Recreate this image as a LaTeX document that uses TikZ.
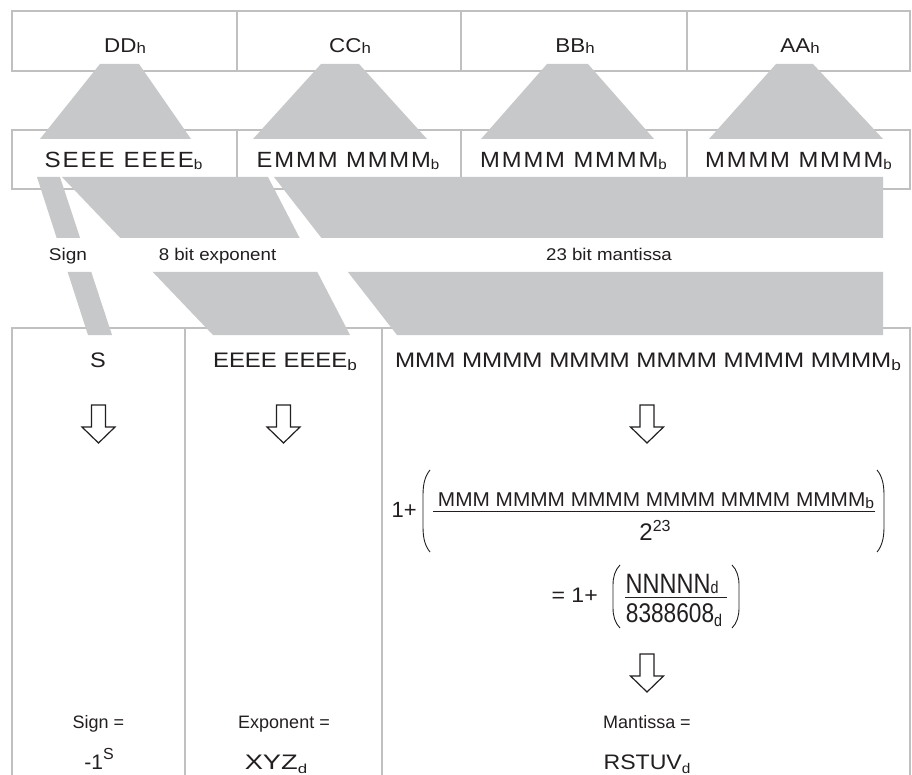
\documentclass[tikz,border=0pt]{standalone}
\usepackage{fontspec}
\setmainfont{Liberation Sans}
\newfontfamily\trackfont[LetterSpace=8]{Liberation Sans}
\usepackage{graphicx}
\definecolor{bandgray}{RGB}{199,200,202}
\definecolor{rulegray}{RGB}{192,192,192}
\definecolor{ink}{RGB}{35,31,32}
\newcommand{\fsz}[1]{\fontsize{#1}{#1}\selectfont}
\newcommand{\hx}[2]{\scalebox{#1}[1]{#2}}
\newcommand{\lowsub}[3]{\raisebox{-#2pt}{\fsz{#1}#3}}
\newcommand{\highsup}[3]{\raisebox{#2pt}{\fsz{#1}#3}}
\tikzset{
  boxline/.style={draw=rulegray, line width=1.5pt},
  bandfill/.style={fill=bandgray},
  txt/.style={inner sep=0pt, anchor=base, text=ink},
  parenline/.style={draw=ink, line width=0.9pt},
  downarrow/.pic={\draw[draw=ink, line width=1.2pt, fill=white, line join=miter]
     (-7,0) -- (7,0) -- (7,22) -- (16.5,22) -- (0,38) -- (-16.5,22) -- (-7,22) -- cycle;}
}
\begin{document}
\begin{tikzpicture}[x=1pt,y=-1pt]
\useasboundingbox (0,0) rectangle (912,775);
\fill[white] (0,0) rectangle (912,775);
% top row
\draw[boxline] (12,11) rectangle (910,71);
\foreach \xx in {237,461,687} \draw[boxline] (\xx,11) -- (\xx,71);
% middle row
\draw[boxline] (12,130) rectangle (910,189);
\foreach \xx in {237,461,687} \draw[boxline] (\xx,130) -- (\xx,189);
% bottom boxes
\draw[boxline] (12,775) -- (12,328) -- (910,328) -- (910,775);
\foreach \xx in {185,382} \draw[boxline] (\xx,328) -- (\xx,775);
% trapezoids
\fill[bandfill] (100,64) -- (139,64) -- (191,139) -- (40,139) -- cycle;
\fill[bandfill] (321,64) -- (359,64) -- (427,139) -- (253,139) -- cycle;
\fill[bandfill] (547,64) -- (588,64) -- (654,139) -- (481,139) -- cycle;
\fill[bandfill] (776,64) -- (813,64) -- (883,139) -- (709,139) -- cycle;
% bands
\begin{scope}
\clip (0,177) rectangle (912,238) (0,272) rectangle (912,335);
\fill[bandfill] (37,177) -- (60,177) -- (112,335) -- (88,335) -- cycle;
\fill[bandfill] (62,177) -- (268,177) -- (350,335) -- (213,335) -- cycle;
\fill[bandfill] (274,177) -- (883,177) -- (883,335) -- (397,335) -- cycle;
\end{scope}
% top texts
\node[txt] (dd) at (125,53) {\fsz{20}\hx{1.12}{DD\lowsub{15}{1}{h}}};
\node[txt] (cc) at (350,53) {\fsz{20}\hx{1.12}{CC\lowsub{15}{1}{h}}};
\node[txt] (bb) at (575,53) {\fsz{20}\hx{1.12}{BB\lowsub{15}{1}{h}}};
\node[txt] (aa) at (800,53) {\fsz{20}\hx{1.12}{AA\lowsub{15}{1}{h}}};
% middle texts
\node[txt] (m1) at (123.5,168) {\hx{1.1}{\trackfont\fsz{22}SEEE EEEE\lowsub{14}{2}{b}}};
\node[txt] (m2) at (348,168) {\hx{1.08}{\trackfont\fsz{22}EMMM MMMM\lowsub{14}{2}{b}}};
\node[txt] (m3) at (573.5,168) {\hx{1.08}{\trackfont\fsz{22}MMMM MMMM\lowsub{14}{2}{b}}};
\node[txt] (m4) at (798.5,168) {\hx{1.08}{\trackfont\fsz{22}MMMM MMMM\lowsub{14}{2}{b}}};
% band labels
\node[txt] (lsign) at (68,261) {\fsz{17}\hx{1.12}{Sign}};
\node[txt] (lexp) at (217.5,261) {\fsz{17}\hx{1.1}{8 bit exponent}};
\node[txt] (lman) at (609,261) {\fsz{17}\hx{1.1}{23 bit mantissa}};
% bottom row texts
\node[txt] (bs) at (98,367) {\fsz{21}\hx{1.12}{S}};
\node[txt] (be) at (285,367) {\fsz{21}\hx{1.14}{EEEE EEEE\lowsub{15}{3}{b}}};
\node[txt] (bm) at (648,367) {\fsz{21}\hx{1.15}{MMM MMMM MMMM MMMM MMMM MMMM\lowsub{15}{3}{b}}};
% arrows
\pic at (98.5,405) {downarrow};
\pic at (283.5,405) {downarrow};
\pic at (647,405) {downarrow};
\pic at (647,654) {downarrow};
% formula 1
\node[txt, anchor=base east] (one1) at (417,517) {\fsz{22}1+};
\node[txt] (num1) at (656,506) {\fsz{20}\hx{1.04}{MMM MMMM MMMM MMMM MMMM MMMM\lowsub{15}{2}{b}}};
\node[txt] (den1) at (655,540) {\fsz{24}2\highsup{16}{9}{23}};
\draw[draw=ink, line width=1pt] (433,511) -- (875,511);
\draw[parenline] (430,470) .. controls (425,476) and (423,484) .. (423,495) -- (423,527) .. controls (423,538) and (425,546) .. (430,552);
\draw[parenline] (877,470) .. controls (882,476) and (884,484) .. (884,495) -- (884,527) .. controls (884,538) and (882,546) .. (877,552);
% formula 2
\node[txt, anchor=base east] (eq2) at (598,602) {\fsz{21}\hx{1.1}{= 1+}};
\node[txt] (num2) at (672,593) {\fsz{28}\hx{0.84}{NNNNN\lowsub{17}{0}{d}}};
\node[txt] (den2) at (674,622) {\fsz{27}\hx{0.84}{8388608\lowsub{17}{4}{d}}};
\draw[draw=ink, line width=1pt] (625,597) -- (727,597);
\draw[parenline] (620,565) .. controls (615,570) and (613,577) .. (613,585) -- (613,608) .. controls (613,616) and (615,623) .. (620,628);
\draw[parenline] (732,565) .. controls (737,570) and (739,577) .. (739,585) -- (739,608) .. controls (739,616) and (737,623) .. (732,628);
% result labels
\node[txt] (rs1) at (98.5,728) {\fsz{18}Sign =};
\node[txt] (rs2) at (284,728) {\fsz{18}Exponent =};
\node[txt] (rs3) at (647,728) {\fsz{18}Mantissa =};
\node[txt] (rv1) at (99,769) {\fsz{21}-1\highsup{16}{10}{S}};
\node[txt] (rv2) at (276,769) {\fsz{21}\hx{1.3}{XYZ\lowsub{13}{4}{d}}};
\node[txt] (rv3) at (647,769) {\fsz{21}\hx{1.1}{RSTUV\lowsub{14}{4}{d}}};
\end{tikzpicture}
\end{document}
